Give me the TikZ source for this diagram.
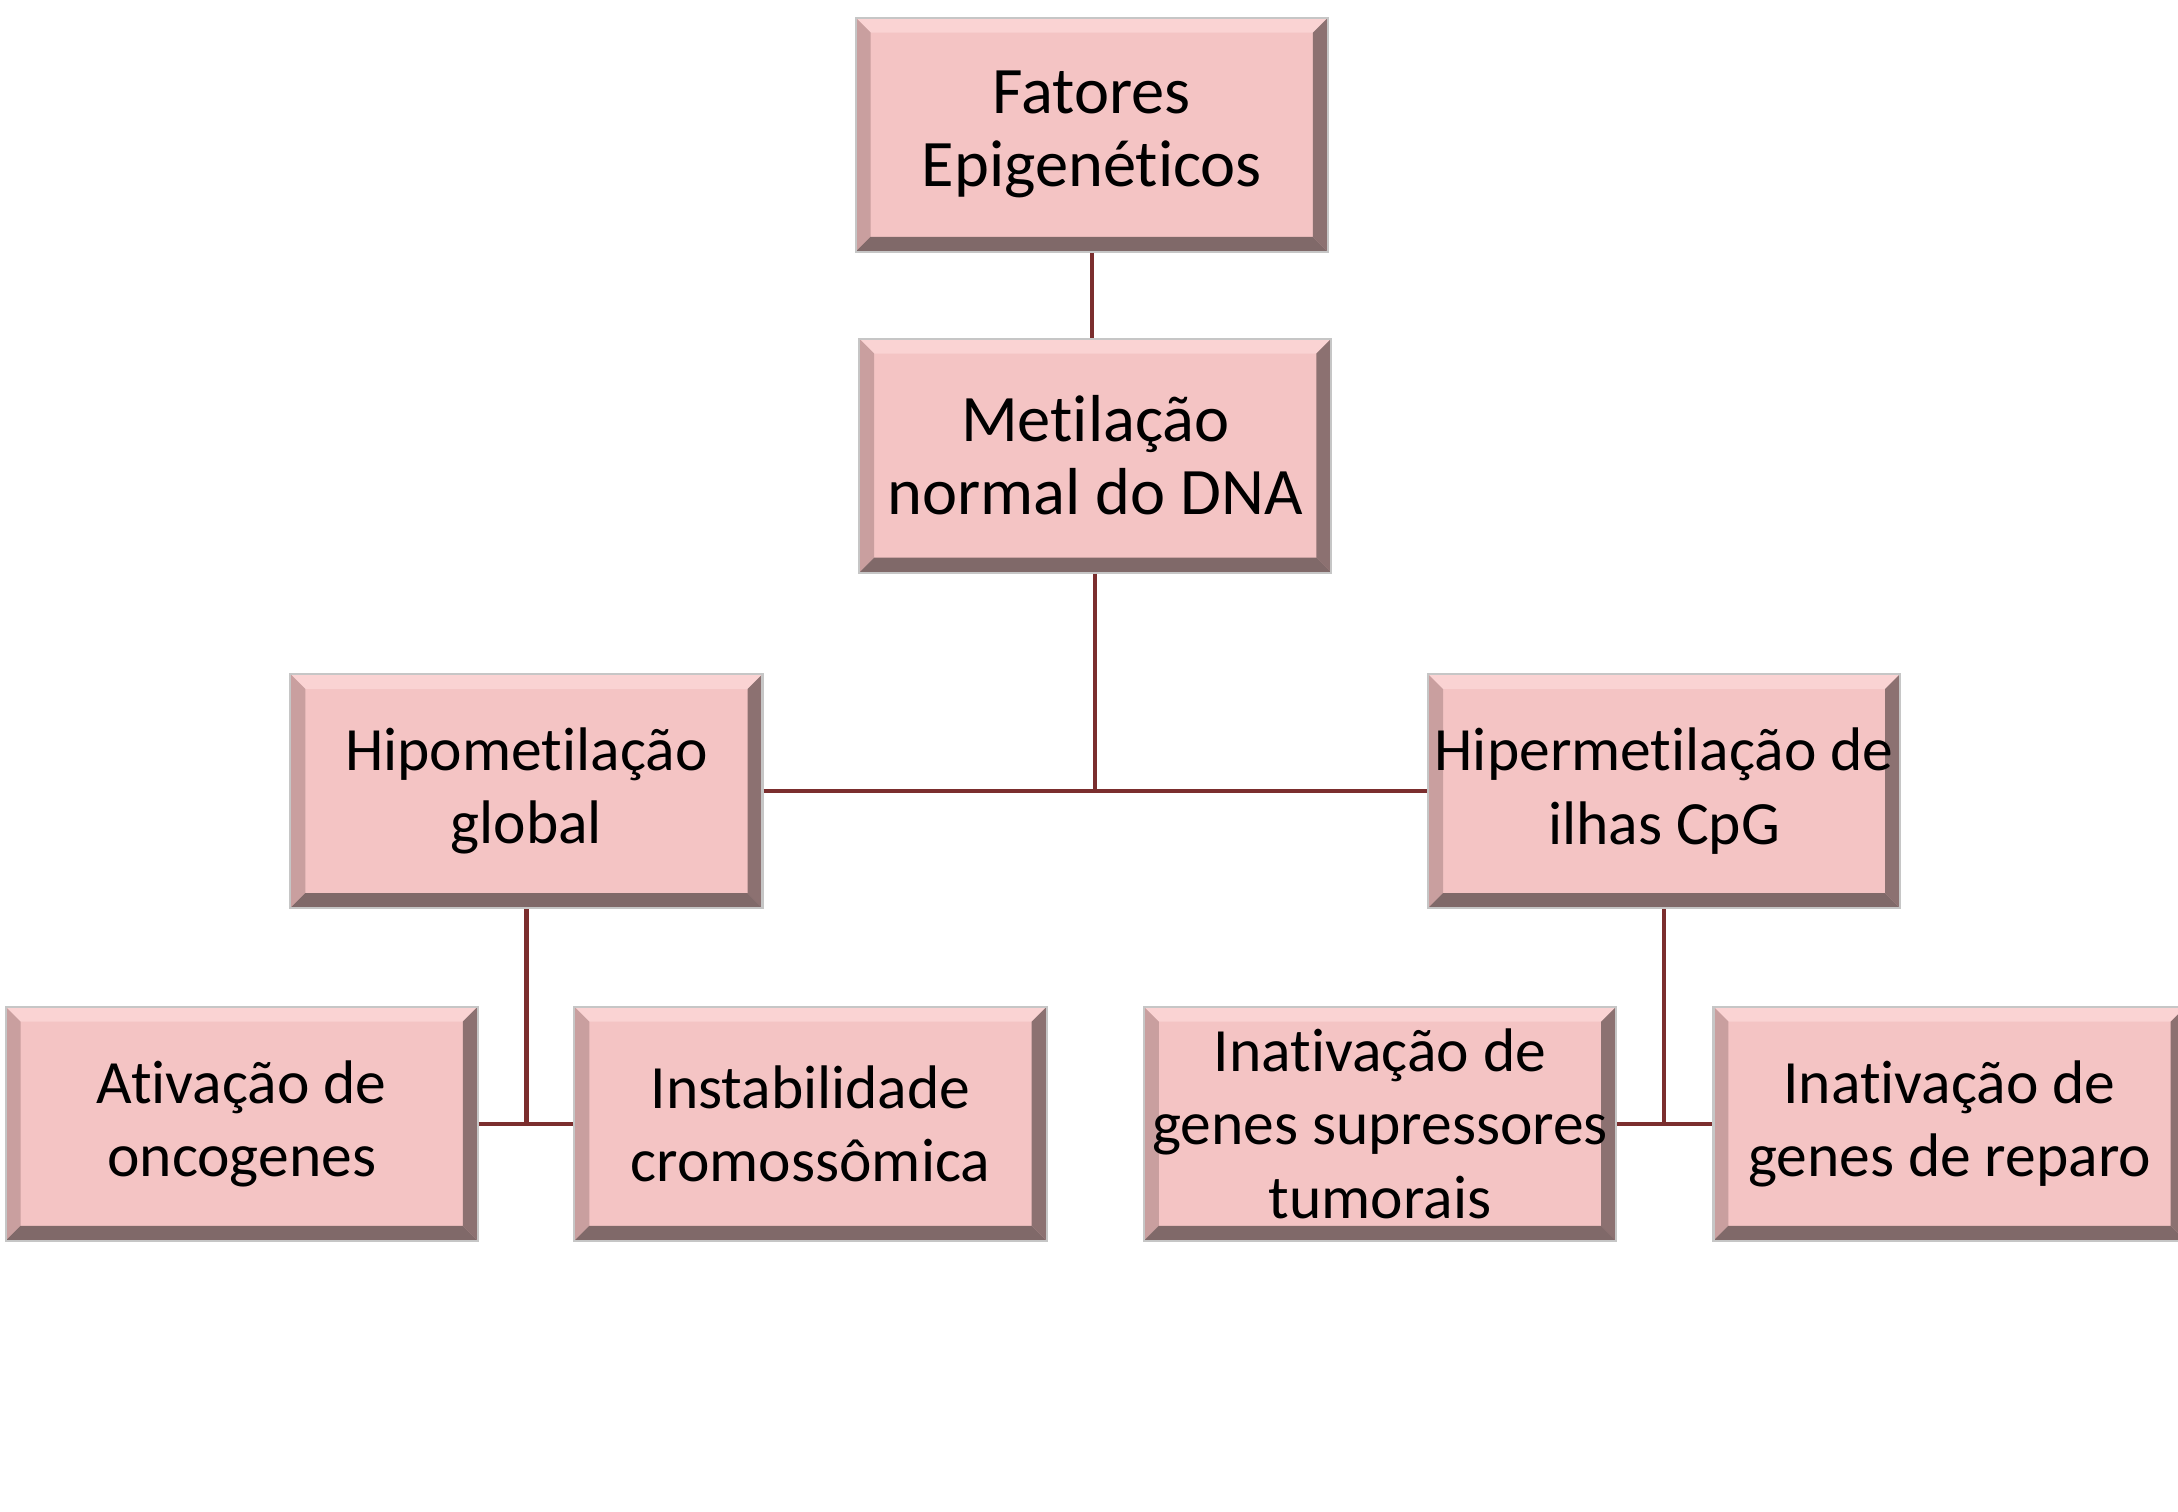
\documentclass[tikz,border=0pt]{standalone}
\usepackage{fontspec}
\setmainfont[Ligatures=NoCommon]{Carlito}
\definecolor{caixa}{HTML}{F4C4C4}
\definecolor{bevtop}{HTML}{FAD3D3}
\definecolor{bevleft}{HTML}{C99F9F}
\definecolor{bevright}{HTML}{8C7171}
\definecolor{bevbottom}{HTML}{806969}
\definecolor{linha}{HTML}{7B2E2E}
\begin{document}
\begin{tikzpicture}[x=0.01389cm,y=-0.01389cm,
    caixa/.style={rectangle,minimum width=4.72cm,minimum height=2.34cm,inner sep=0pt,
        fill=caixa,draw=gray!45,line width=0.6pt,align=center,
        font=\fontsize{17.5pt}{20.8pt}\selectfont,
        path picture={
            \coordinate (nw) at (path picture bounding box.north west);
            \coordinate (ne) at (path picture bounding box.north east);
            \coordinate (sw) at (path picture bounding box.south west);
            \coordinate (se) at (path picture bounding box.south east);
            \fill[bevtop] (nw) -- (ne) -- ([shift={(-1.5mm,-1.5mm)}]ne) -- ([shift={(1.5mm,-1.5mm)}]nw) -- cycle;
            \fill[bevleft] (nw) -- (sw) -- ([shift={(1.5mm,1.5mm)}]sw) -- ([shift={(1.5mm,-1.5mm)}]nw) -- cycle;
            \fill[bevright] (ne) -- (se) -- ([shift={(-1.5mm,1.5mm)}]se) -- ([shift={(-1.5mm,-1.5mm)}]ne) -- cycle;
            \fill[bevbottom] (sw) -- (se) -- ([shift={(-1.5mm,1.5mm)}]se) -- ([shift={(1.5mm,1.5mm)}]sw) -- cycle;
        }},
    topo/.style={font=\fontsize{18.9pt}{20.8pt}\selectfont},
    ligacao/.style={draw=linha,line width=1.2pt}]
    \useasboundingbox[fill=white] (0,0) rectangle (1568,1088);%固定画布大小
    \node[caixa,topo] (fat) at (786,97) {Fatores\\Epigenéticos};
    \node[caixa,topo] (met) at (788.5,328) {Metilação\\normal do DNA};
    \node[caixa] (hipo) at (379,569.5) {Hipometilação\\global};
    \node[caixa] (hiper) at (1198,569.5) {Hipermetilação de\\ilhas CpG};
    \node[caixa] (ativ) at (174,809) {Ativação de\\oncogenes};
    \node[caixa] (inst) at (583.5,809) {Instabilidade\\cromossômica};
    \node[caixa] (supr) at (993.5,809) {Inativação de\\genes supressores\\tumorais};
    \node[caixa] (rep) at (1403.5,809) {Inativação de\\genes de reparo};%右侧的框超出画布
    \draw[ligacao] (fat) -- (fat |- met.north);
    \draw[ligacao] (met) -- (met |- hipo);%向下连到水平线
    \draw[ligacao] (hipo) -- (hiper);
    \draw[ligacao] (hipo) -- (hipo |- ativ);
    \draw[ligacao] (ativ) -- (inst);
    \draw[ligacao] (hiper) -- (hiper |- supr);
    \draw[ligacao] (supr) -- (rep);
\end{tikzpicture}
\end{document}
